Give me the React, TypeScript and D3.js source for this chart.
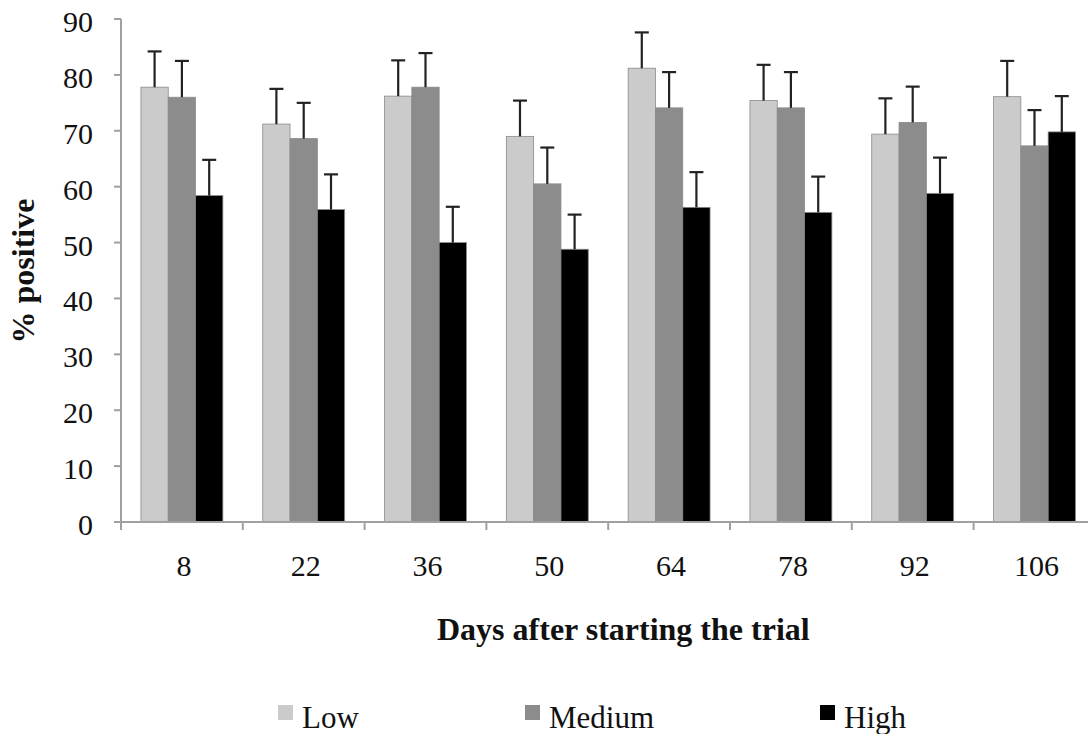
import * as d3 from 'd3'

const days = ['8', '22', '36', '50', '64', '78', '92', '106']
const seriesNames = ['Low', 'Medium', 'High']
const lowVals = [77.8, 71.2, 76.2, 69.0, 81.2, 75.4, 69.4, 76.1]
const mediumVals = [76.0, 68.6, 77.8, 60.5, 74.1, 74.1, 71.5, 67.3]
const highVals = [58.4, 55.9, 50.0, 48.8, 56.3, 55.4, 58.8, 69.8]
const lowErr = [6.4, 6.3, 6.4, 6.4, 6.4, 6.4, 6.4, 6.4]
const mediumErr = [6.5, 6.4, 6.1, 6.5, 6.4, 6.4, 6.4, 6.4]
const highErr = [6.4, 6.3, 6.4, 6.2, 6.3, 6.4, 6.4, 6.4]
const yTicks = [0, 10, 20, 30, 40, 50, 60, 70, 80, 90]

const colors = ['#cbcbcb', '#8c8c8c', '#000000']
const font = 'Liberation Serif'

export default function App() {
  const W = 1088
  const H = 734
  const left = 121
  const bottom = 522
  const top = 19
  const bandW = 121.8

  const x0 = d3.scaleBand<string>().domain(days).range([left, left + bandW * days.length]).padding(0)
  const x1 = d3.scaleBand<string>().domain(seriesNames).range([0, x0.bandwidth()]).paddingInner(0).paddingOuter(0.73)
  const y = d3.scaleLinear().domain([0, 90]).range([bottom, top])

  const values = [lowVals, mediumVals, highVals]
  const errs = [lowErr, mediumErr, highErr]

  // legend: square x, label x
  const legendX = [278, 525, 820]
  const txt = { fontFamily: font, fill: '#111' }

  return (
    <svg width={W} height={H} style={{ position: 'absolute', left: 0, top: 0, background: '#fff' }}>
      {/* bars */}
      {days.map((d, i) => (
        <g key={d} transform={`translate(${x0(d)},0)`}>
          {seriesNames.map((s, j) => {
            const v = values[j][i]
            const bx = x1(s)!
            const bw = x1.bandwidth()
            const cx = bx + bw / 2
            const et = y(v + errs[j][i])
            return (
              <g key={s}>
                <rect x={bx} y={y(v)} width={bw} height={bottom - y(v)} fill={colors[j]} stroke="#8a8a8a" strokeWidth={0.8} />
                <line x1={cx} x2={cx} y1={y(v)} y2={et} stroke="#222" strokeWidth={2.2} />
                <line x1={cx - 7} x2={cx + 7} y1={et} y2={et} stroke="#222" strokeWidth={2.2} />
              </g>
            )
          })}
        </g>
      ))}

      {/* y axis */}
      <line x1={left} x2={left} y1={top} y2={bottom} stroke="#a0a0a0" strokeWidth={2} />
      {yTicks.map((t) => (
        <g key={t}>
          <line x1={left - 7} x2={left} y1={y(t)} y2={y(t)} stroke="#a0a0a0" strokeWidth={2} />
          <text x={93} y={y(t) + 13} textAnchor="end" fontSize={30} style={txt}>{t}</text>
        </g>
      ))}

      {/* x axis */}
      <line x1={left} x2={W} y1={bottom} y2={bottom} stroke="#a0a0a0" strokeWidth={2} />
      {days.map((d) => (
        <g key={d}>
          <line x1={x0(d)!} x2={x0(d)!} y1={bottom} y2={bottom + 8} stroke="#a0a0a0" strokeWidth={2} />
          <text x={x0(d)! + x0.bandwidth() / 2 + 2} y={576} textAnchor="middle" fontSize={30} style={txt}>{d}</text>
        </g>
      ))}

      {/* titles */}
      <text x={437} y={640} fontSize={32} fontWeight="bold" style={txt}>Days after starting the trial</text>
      <text transform="translate(34,271) rotate(-90)" textAnchor="middle" fontSize={32} fontWeight="bold" style={txt}>% positive</text>

      {/* legend */}
      {seriesNames.map((s, j) => (
        <g key={s} transform={`translate(${legendX[j]},0)`}>
          <rect x={0} y={705} width={15} height={15} fill={colors[j]} />
          <text x={24} y={728} fontSize={31} style={txt}>{s}</text>
        </g>
      ))}
    </svg>
  )
}
